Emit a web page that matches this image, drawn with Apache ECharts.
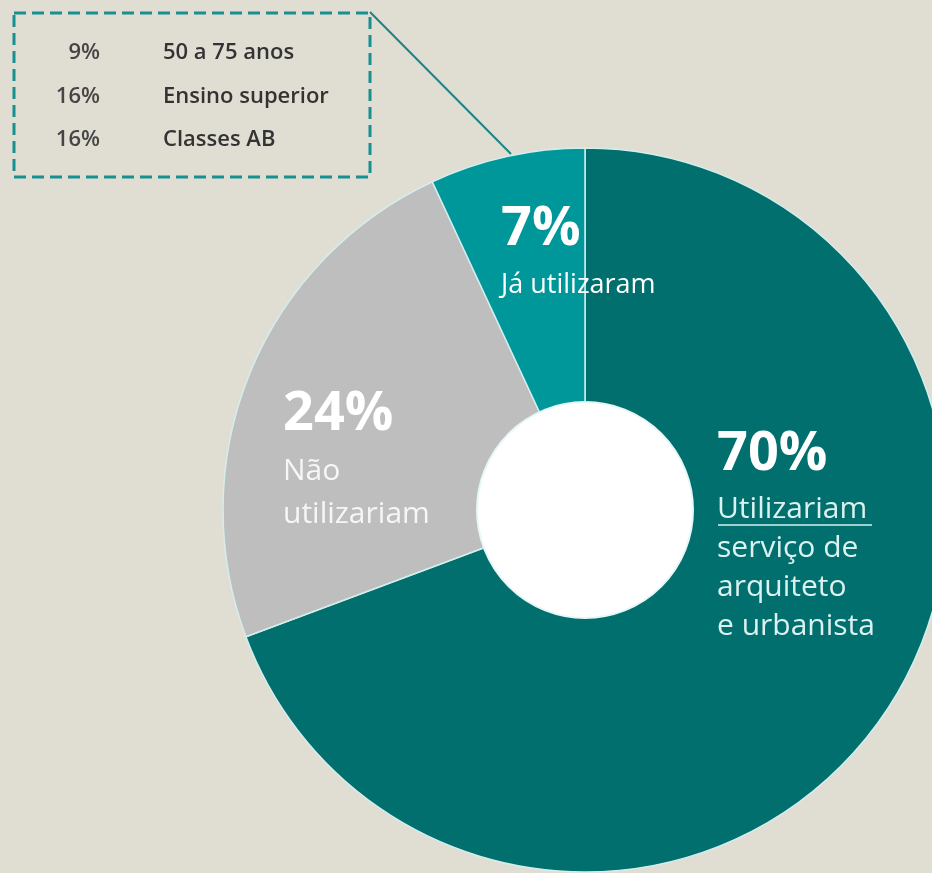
<!DOCTYPE html>
<html>
<head>
<meta charset="utf-8">
<script src="https://cdn.jsdelivr.net/npm/echarts@6/dist/echarts.min.js"></script>
<style>
html,body{margin:0;padding:0;background:#e0ddd3;}
#chart{width:932px;height:873px;}
</style>
</head>
<body>
<div id="chart"></div>
<script>
// ---- data ----
var categories = ['Utilizariam\nserviço de\narquiteto\ne urbanista', 'Não\nutilizariam', 'Já utilizaram'];
var values = [70, 24, 7];
var boxPercents = [9, 16, 16];
var boxLabels = ['50 a 75 anos', 'Ensino superior', 'Classes AB'];

// ---- styles ----
var colors = ['#006f6e', '#bebebf', '#00979a'];
var labelPos = [[717, 420], [283, 380], [501, 195]];
var descColors = ['#dcf2f1', '#f6f6f6', '#ffffff'];
var descLineH = [39, 43, 40];
var FONT = "'Open Sans', 'Liberation Sans', sans-serif";

var chart = echarts.init(document.getElementById('chart'));

var graphics = [
  {type: 'rect', shape: {x: 14, y: 13, width: 356, height: 164},
   style: {fill: 'none', stroke: '#17908f', lineWidth: 3, lineDash: [12, 6]}},
  {type: 'line', shape: {x1: 370, y1: 12, x2: 511, y2: 154},
   style: {stroke: '#1a8584', lineWidth: 2}},
  {type: 'circle', shape: {cx: 585, cy: 510, r: 108}, z: 10,
   style: {fill: '#ffffff', stroke: '#e6f7f7', lineWidth: 2}},
  {type: 'line', shape: {x1: 718, y1: 525, x2: 872, y2: 525}, z: 20,
   style: {stroke: '#d6f0ef', lineWidth: 1.5}}
];
boxPercents.forEach(function (p, i) {
  graphics.push({type: 'text', x: 100, y: 53 + i * 43.5,
    style: {text: p + '%', font: '600 22px ' + FONT, fill: '#454545', align: 'right', verticalAlign: 'middle'}});
  graphics.push({type: 'text', x: 163, y: 53 + i * 43.5,
    style: {text: boxLabels[i], font: '600 22px ' + FONT, fill: '#333333', align: 'left', verticalAlign: 'middle'}});
});

chart.setOption({
  backgroundColor: '#e0ddd3',
  animation: false,
  graphic: graphics,
  series: [{
    type: 'pie',
    center: [585, 510],
    radius: [0, 362],
    startAngle: 90,
    clockwise: true,
    silent: true,
    data: categories.map(function (c, i) {
      return {
        name: c, value: values[i],
        itemStyle: {color: colors[i]},
        label: {
          rich: {
            p: {fontFamily: FONT, fontWeight: 'bold', fontSize: 54, color: '#ffffff', lineHeight: 70},
            d: {fontFamily: FONT, fontSize: i === 2 ? 27 : 30, color: descColors[i], lineHeight: descLineH[i]}
          }
        }
      };
    }),
    itemStyle: {borderColor: '#d4eeee', borderWidth: 1.5},
    label: {
      show: true,
      position: 'inside',
      formatter: function (p) {
        return '{p|' + p.value + '%}\n' + p.name.split('\n').map(function (s) { return '{d|' + s + '}'; }).join('\n');
      }
    },
    labelLine: {show: false},
    labelLayout: function (params) {
      var pos = labelPos[params.dataIndex];
      return {x: pos[0], y: pos[1], align: 'left', verticalAlign: 'top'};
    }
  }]
});
</script>
</body>
</html>
